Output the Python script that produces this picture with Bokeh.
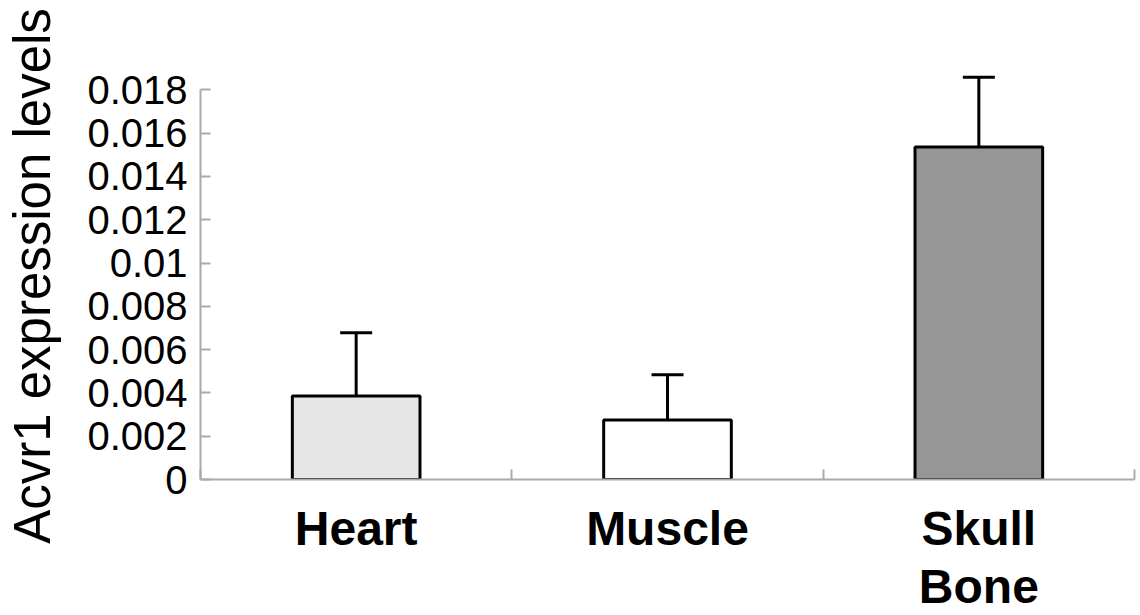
from bokeh.plotting import figure
from bokeh.models import Range1d, FixedTicker, Whisker, TeeHead, ColumnDataSource
from bokeh.embed import file_html
from bokeh.resources import INLINE

# ---- data ----
categories = ["Heart", "Muscle", "Skull\nBone"]
values = [0.00386, 0.00275, 0.01536]
upper_err = [0.00292, 0.00209, 0.00322]
bar_colors = ["#e6e6e6", "#ffffff", "#969696"]
y_ticks = [0, 0.002, 0.004, 0.006, 0.008, 0.01, 0.012, 0.014, 0.016, 0.018]
y_tick_labels = ["0", "0.002", "0.004", "0.006", "0.008", "0.01", "0.012", "0.014", "0.016", "0.018"]
y_label = "Acvr1 expression levels"

n = len(categories)
xs = [i + 0.5 for i in range(n)]
src = ColumnDataSource(dict(
    x=xs, top=values, upper=[v + e for v, e in zip(values, upper_err)], color=bar_colors))

FONT = "Liberation Sans"
GRAY = "#aaaaaa"

p = figure(width=1140, height=615, x_range=Range1d(0, n), y_range=Range1d(0, 0.0188),
           output_backend="svg", toolbar_location=None,
           min_border_left=200, min_border_top=72, min_border_bottom=134, min_border_right=6)
p.background_fill_color = "white"
p.border_fill_color = "white"
p.outline_line_color = None
p.grid.visible = False

p.vbar(x="x", top="top", width=0.41, source=src, fill_color="color",
       line_color="black", line_width=3)

w = Whisker(base="x", lower="top", upper="upper", source=src, line_width=3, line_color="black",
            upper_head=TeeHead(size=32, line_width=3, line_color="black"), lower_head=None)
p.add_layout(w)

# y axis
ya = p.yaxis[0]
ya.ticker = FixedTicker(ticks=y_ticks)
ya.major_label_overrides = {t: l for t, l in zip(y_ticks, y_tick_labels)}
ya.bounds = (0, y_ticks[-1])
ya.axis_line_color = GRAY
ya.axis_line_width = 2
ya.major_tick_line_color = GRAY
ya.major_tick_line_width = 2
ya.major_tick_in = 10
ya.major_tick_out = 0
ya.minor_tick_line_color = None
ya.major_label_standoff = 13
ya.major_label_text_font = FONT
ya.major_label_text_font_size = "40px"
ya.major_label_text_color = "black"
ya.axis_label = y_label
ya.axis_label_text_font = FONT
ya.axis_label_text_font_size = "51px"
ya.axis_label_text_font_style = "normal"
ya.axis_label_text_color = "black"
ya.axis_label_standoff = 23

# x axis: boundary ticks as minor ticks, category names at centers
xa = p.xaxis[0]
xa.ticker = FixedTicker(ticks=xs, minor_ticks=list(range(n + 1)))
xa.major_label_overrides = {x: c for x, c in zip(xs, categories)}
xa.axis_line_color = GRAY
xa.axis_line_width = 2
xa.major_tick_line_color = None
xa.major_tick_in = 0
xa.major_tick_out = 0
xa.minor_tick_line_color = GRAY
xa.minor_tick_line_width = 2
xa.minor_tick_in = 10
xa.minor_tick_out = 0
xa.major_label_standoff = 22
xa.major_label_text_font = FONT
xa.major_label_text_font_size = "48px"
xa.major_label_text_font_style = "bold"
xa.major_label_text_color = "black"
xa.major_label_text_line_height = 1.1

open("out.html", "w").write(file_html(p, INLINE))
